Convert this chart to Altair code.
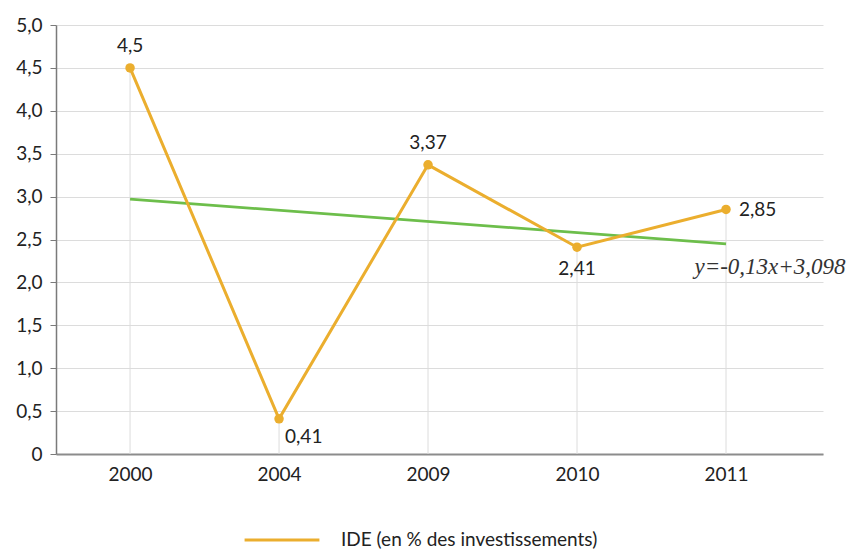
import altair as alt
import pandas as pd

years = ["2000", "2004", "2009", "2010", "2011"]
ide = [4.5, 0.41, 3.37, 2.41, 2.85]
ide_labels = ["4,5", "0,41", "3,37", "2,41", "2,85"]
trend_x = [0, 4]
trend_y = [2.97, 2.45]
y_ticks = [0, 0.5, 1.0, 1.5, 2.0, 2.5, 3.0, 3.5, 4.0, 4.5, 5.0]
series_name = "IDE (en % des investissements)"
equation = "y=-0,13x+3,098"

ORANGE = "#EBAE2E"
GREEN = "#6DBE4B"
FONT = "Lato"
FS = 19

df = pd.DataFrame({"i": list(range(len(years))), "year": years, "v": ide,
                   "lab": ide_labels, "series": series_name})
tdf = pd.DataFrame({"i": trend_x, "v": trend_y})
eq_df = pd.DataFrame({"i": [trend_x[-1]], "v": [trend_y[-1]], "t": [equation]})

label_expr = "[" + ",".join("'%s'" % y for y in years) + "][datum.value]"

x_enc = alt.X("i:Q", scale=alt.Scale(domain=[-0.497, 4.651], nice=False, zero=False),
              axis=alt.Axis(values=list(range(len(years))), labelExpr=label_expr, title=None,
                            grid=False, ticks=False, domainColor="#8c8c8c", domainWidth=2,
                            labelFont=FONT, labelFontSize=FS, labelColor="#222222",
                            labelPadding=11))
y_enc = alt.Y("v:Q", scale=alt.Scale(domain=[0, 5], nice=False),
              axis=alt.Axis(values=y_ticks, title=None, grid=True, gridColor="#dcdcdc",
                            domainColor="#7a7a7a", domainWidth=1.5, tickColor="#7a7a7a",
                            tickSize=6, labelFont=FONT, labelFontSize=FS, labelColor="#222222",
                            labelPadding=8,
                            labelExpr="datum.value == 0 ? '0' : replace(format(datum.value, '.1f'), '.', ',')"))

base = alt.Chart(df)

drops = base.transform_calculate(z="0").mark_rule(color="#dcdcdc", strokeWidth=1).encode(
    x=alt.X("i:Q"), y=alt.Y("z:Q"), y2="v:Q")

trend = alt.Chart(tdf).mark_line(color=GREEN, strokeWidth=2.8).encode(
    x=alt.X("i:Q"), y=alt.Y("v:Q"))

line = base.mark_line(strokeWidth=3, point=alt.OverlayMarkDef(filled=True, size=90, color=ORANGE)).encode(
    x=x_enc, y=y_enc,
    color=alt.Color("series:N", scale=alt.Scale(domain=[series_name], range=[ORANGE]),
                    legend=alt.Legend(title=None, orient="none", legendX=187, legendY=476,
                                      symbolType="stroke", symbolSize=5600, symbolStrokeWidth=3,
                                      labelFont=FONT, labelFontSize=FS, labelColor="#222222",
                                      labelOffset=20, labelLimit=500)))

# label placements (dx, dy, align) per point
placements = [(0, -22, "center"), (6, 18, "left"), (0, -22, "center"), (0, 22, "center"), (13, 1, "left")]
labels = []
for k, (dx, dy, al) in enumerate(placements):
    labels.append(
        base.transform_filter(alt.datum.i == k).mark_text(
            dx=dx, dy=dy, align=al, baseline="middle", font=FONT, fontSize=FS, color="#222222"
        ).encode(x="i:Q", y="v:Q", text="lab:N"))

eq = alt.Chart(eq_df).mark_text(dx=44, dy=23, align="center", baseline="middle",
                                font="Liberation Serif", fontStyle="italic", fontSize=23,
                                color="#333333").encode(x="i:Q", y="v:Q", text="t:N")

chart = alt.layer(drops, trend, line, *labels, eq).properties(
    width=767, height=429,
    autosize=alt.AutoSizeParams(type="none"),
    padding={"left": 48, "top": 17, "right": 27, "bottom": 95},
).configure_view(stroke=None)

chart.save("out.html", embed_options={"renderer": "svg", "actions": False})
